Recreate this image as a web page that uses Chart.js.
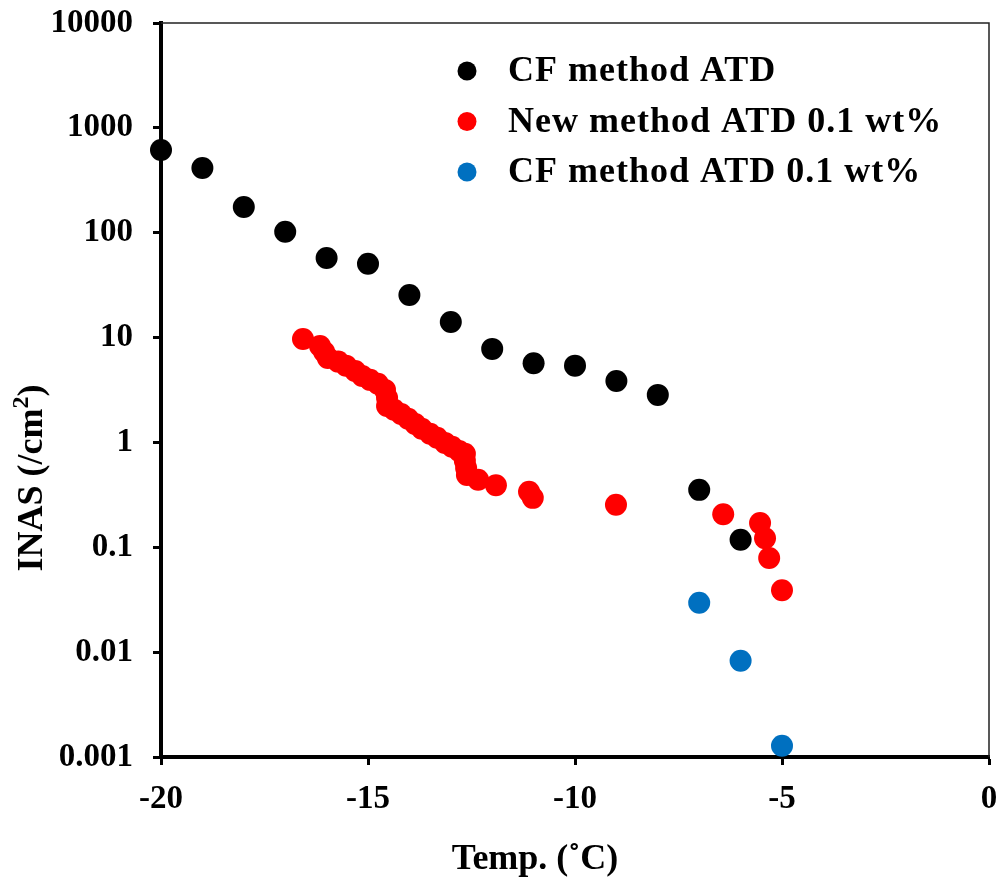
<!DOCTYPE html>
<html>
<head>
<meta charset="utf-8">
<script src="https://cdn.jsdelivr.net/npm/chart.js@4"></script>
<style>
  html, body { margin: 0; padding: 0; background: #fff; }
  #wrap { width: 1001px; height: 886px; }
</style>
</head>
<body>
<div id="wrap"><canvas id="inasChart" width="1001" height="886"></canvas></div>
<script>
// CF method ATD
const cfTemp = [-20, -19, -18, -17, -16, -15, -14, -13, -12, -11, -10, -9, -8, -7, -6];
const cfInas = [615, 415, 176, 102, 57.5, 50.5, 25.5, 14.1, 7.8, 5.7, 5.4, 3.86, 2.84, 0.353, 0.118];

// New method ATD 0.1 wt%
const newTemp = [-16.57, -16.16, -16.06, -15.97, -15.72, -15.53, -15.31, -15.14, -14.95, -14.76,
  -14.59, -14.54, -14.54, -14.37, -14.2, -14.03, -13.86, -13.7, -13.5, -13.33,
  -13.14, -12.97, -12.8, -12.66, -12.66, -12.63, -12.61, -12.34, -11.91, -11.11,
  -11.02, -9.01, -6.42, -5.53, -5.41, -5.31, -5.0];
const newInas = [9.7, 8.3, 7.3, 6.4, 5.9, 5.4, 4.8, 4.3, 3.95, 3.62,
  3.17, 2.66, 2.23, 2.05, 1.87, 1.68, 1.5, 1.35, 1.21, 1.11,
  0.99, 0.91, 0.83, 0.78, 0.67, 0.57, 0.49, 0.44, 0.39, 0.338,
  0.296, 0.254, 0.207, 0.17, 0.122, 0.079, 0.039];

// CF method ATD 0.1 wt%
const cf01Temp = [-7, -6, -5];
const cf01Inas = [0.0296, 0.00828, 0.00128];

const seriesLabels = ['CF method ATD', 'New method ATD 0.1 wt%', 'CF method ATD 0.1 wt%'];
const seriesColors = ['#000000', '#ff0000', '#0070c0'];

const yTicks = [0.001, 0.01, 0.1, 1, 10, 100, 1000, 10000];
const yTickLabels = ['0.001', '0.01', '0.1', '1', '10', '100', '1000', '10000'];
const xTickLabels = ['-20', '-15', '-10', '-5', '0'];

const FONT = "'Liberation Serif', 'Times New Roman', serif";

function toPoints(xs, ys) {
    return xs.map((x, i) => ({ x: x, y: ys[i] }));
}

// no extra room for label overflow, the layout padding handles it
function noScalePadding(scale) {
    scale.paddingTop = 0;
    scale.paddingBottom = 0;
    scale.paddingLeft = 0;
    scale.paddingRight = 0;
}

// frame, titles and legend drawn on top of the chart
const decorations = {
    id: 'decorations',
    beforeDatasetsDraw(chart) {
        const ctx = chart.ctx;
        const a = chart.chartArea;
        ctx.save();
        ctx.strokeStyle = '#222';
        ctx.lineWidth = 1.5;
        ctx.beginPath();
        ctx.moveTo(a.left, a.top);
        ctx.lineTo(a.right, a.top);
        ctx.lineTo(a.right, a.bottom);
        ctx.stroke();
        ctx.restore();
    },
    afterDraw(chart) {
        const ctx = chart.ctx;
        const a = chart.chartArea;
        ctx.save();
        ctx.fillStyle = '#000';

        // x title
        ctx.font = 'bold 36px ' + FONT;
        ctx.textAlign = 'center';
        ctx.textBaseline = 'middle';
        ctx.fillText('Temp. (\u02DAC)', 535, 860);

        // y title with superscript
        ctx.translate(30, 478);
        ctx.rotate(-Math.PI / 2);
        const p1 = 'INAS (/cm';
        const p3 = ')';
        ctx.font = 'bold 36px ' + FONT;
        const w1 = ctx.measureText(p1).width;
        const w3 = ctx.measureText(p3).width;
        ctx.font = 'bold 24px ' + FONT;
        const w2 = ctx.measureText('2').width;
        let x = -(w1 + w2 + w3) / 2;
        ctx.textAlign = 'left';
        ctx.textBaseline = 'alphabetic';
        ctx.font = 'bold 36px ' + FONT;
        ctx.fillText(p1, x, 12);
        ctx.font = 'bold 24px ' + FONT;
        ctx.fillText('2', x + w1, -2);
        ctx.font = 'bold 36px ' + FONT;
        ctx.fillText(p3, x + w1 + w2, 12);
        ctx.restore();

        // legend
        ctx.save();
        ctx.font = 'bold 36px ' + FONT;
        ctx.letterSpacing = '1px';
        ctx.textAlign = 'left';
        ctx.textBaseline = 'middle';
        chart.data.datasets.forEach((ds, i) => {
            const cy = a.top + 48 + i * 50.5;
            ctx.fillStyle = ds.backgroundColor;
            ctx.beginPath();
            ctx.arc(a.left + 306, cy, 9.5, 0, Math.PI * 2);
            ctx.fill();
            ctx.fillStyle = '#000';
            ctx.fillText(ds.label, a.left + 347, cy + 1);
        });
        ctx.restore();
    }
};

document.addEventListener('DOMContentLoaded', function () {
    const ctx = document.getElementById('inasChart').getContext('2d');

    const datasets = [
        toPoints(cfTemp, cfInas),
        toPoints(newTemp, newInas),
        toPoints(cf01Temp, cf01Inas)
    ].map((pts, i) => ({
        label: seriesLabels[i],
        data: pts,
        backgroundColor: seriesColors[i],
        borderColor: seriesColors[i],
        borderWidth: 0,
        pointRadius: 11,
        pointHoverRadius: 11,
        showLine: false,
        clip: false
    }));

    new Chart(ctx, {
        type: 'scatter',
        data: { datasets: datasets },
        options: {
            responsive: false,
            animation: false,
            events: [],
            layout: { padding: { left: 0, top: 23, right: 12, bottom: 0 } },
            plugins: {
                legend: { display: false },
                tooltip: { enabled: false }
            },
            scales: {
                x: {
                    type: 'linear',
                    min: -20,
                    max: 0,
                    border: { display: true, color: '#000', width: 4 },
                    grid: {
                        drawOnChartArea: false,
                        drawTicks: true,
                        tickLength: 8,
                        tickWidth: 3,
                        tickColor: '#000'
                    },
                    ticks: {
                        stepSize: 5,
                        padding: 15,
                        color: '#000',
                        font: { family: FONT, size: 33, weight: 'bold' },
                        callback: (v) => xTickLabels[(v + 20) / 5]
                    },
                    afterFit: (scale) => {
                        scale.height = 129;
                        noScalePadding(scale);
                    }
                },
                y: {
                    type: 'logarithmic',
                    min: 0.001,
                    max: 10000,
                    border: { display: true, color: '#000', width: 4 },
                    grid: {
                        drawOnChartArea: false,
                        drawTicks: true,
                        tickLength: 8,
                        tickWidth: 3,
                        tickColor: '#000'
                    },
                    afterBuildTicks: (scale) => {
                        scale.ticks = yTicks.map(v => ({ value: v }));
                    },
                    ticks: {
                        padding: 20,
                        color: '#000',
                        font: { family: FONT, size: 33, weight: 'bold' },
                        callback: (v) => yTickLabels[yTicks.indexOf(v)]
                    },
                    afterFit: (scale) => {
                        scale.width = 161;
                        noScalePadding(scale);
                    }
                }
            }
        },
        plugins: [decorations]
    });
});
</script>
</body>
</html>
